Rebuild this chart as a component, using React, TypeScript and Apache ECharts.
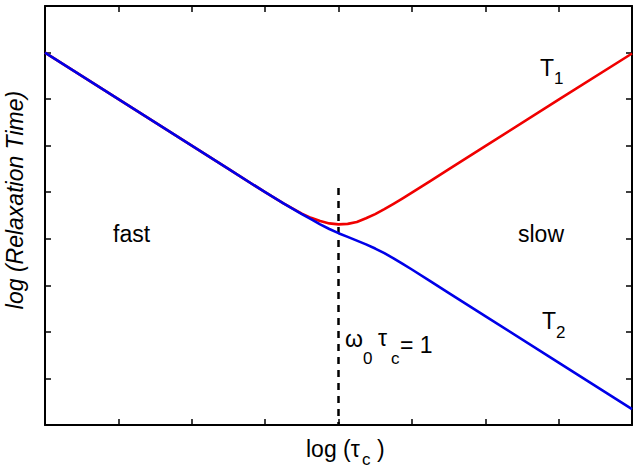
import React, { useEffect, useRef } from "react";
import * as echarts from "echarts";

// log(tau_c) sample positions shared by both relaxation curves
const logTau: number[] = [
  0, 1, 2, 2.5, 3, 3.25, 3.5, 3.625, 3.75, 3.875, 4, 4.125, 4.25, 4.375, 4.5, 4.625, 4.75, 4.875, 5, 5.25, 5.5, 6, 7, 8,
];
// log(T1): falls in the fast regime, minimum near omega0*tau_c = 1, rises in the slow regime
const logT1: number[] = [
  8, 7, 6, 5.5, 5.0, 4.76, 4.54, 4.45, 4.38, 4.33, 4.31, 4.32, 4.36, 4.44, 4.53, 4.637, 4.75, 4.868, 4.99, 5.24, 5.49, 5.99, 6.99, 7.98,
];
// log(T2): keeps falling, with a small step around omega0*tau_c = 1
const logT2: number[] = [
  8, 7, 6, 5.5, 5.0, 4.76, 4.53, 4.42, 4.31, 4.21, 4.12, 4.04, 3.96, 3.88, 3.79, 3.69, 3.58, 3.46, 3.34, 3.09, 2.84, 2.34, 1.34, 0.34,
];
// omega0*tau_c = 1 marker
const markerX: number[] = [4, 4];
const markerY: number[] = [5.09, 0];

const FONT = "'Liberation Sans', Arial, Helvetica, sans-serif";

function pairs(xs: number[], ys: number[]): number[][] {
  return xs.map((x, i) => [x, ys[i]]);
}

function axis(position: string, min: number, max: number) {
  return {
    type: "value",
    position,
    min,
    max,
    interval: 1,
    axisLine: { show: true, onZero: false, lineStyle: { color: "#000", width: 2 } },
    axisTick: { show: true, inside: true, length: 6, lineStyle: { color: "#000", width: 1.5 } },
    axisLabel: { show: false },
    splitLine: { show: false },
  };
}

function txt(text: string, x: number, y: number, fontSize: number, extra: any = {}, rotation = 0) {
  return {
    type: "text",
    x,
    y,
    rotation,
    silent: true,
    style: {
      text,
      fill: "#000",
      fontSize,
      fontFamily: FONT,
      align: "left",
      verticalAlign: "middle",
      ...extra,
    },
  };
}

export default function App() {
  const ref = useRef<HTMLDivElement>(null);

  useEffect(() => {
    if (!ref.current) return;
    const chart = echarts.init(ref.current, undefined, { renderer: "svg" });
    const main = 23;
    const sub = 17;
    chart.setOption({
      animation: false,
      backgroundColor: "#fff",
      grid: { left: 45, top: 6, right: 7, bottom: 43 },
      xAxis: [axis("bottom", 0, 8), axis("top", 0, 8)],
      yAxis: [axis("left", 0, 9), axis("right", 0, 9)],
      series: [
        {
          name: "T1",
          type: "line",
          data: pairs(logTau, logT1),
          showSymbol: false,
          lineStyle: { color: "#f00000", width: 2.6, join: "round" },
          z: 3,
        },
        {
          name: "T2",
          type: "line",
          data: pairs(logTau, logT2),
          showSymbol: false,
          lineStyle: { color: "#0000e8", width: 2.6, join: "round" },
          z: 4,
        },
        {
          name: "marker",
          type: "line",
          data: pairs(markerX, markerY),
          showSymbol: false,
          lineStyle: { color: "#000", width: 2.5, type: [7, 6] },
          z: 2,
        },
      ],
      graphic: [
        txt("log (Relaxation Time)", 15, 200, main, { align: "center", fontStyle: "italic" }, Math.PI / 2),
        txt("fast", 113, 234, main),
        txt("slow", 518, 234, main),
        txt("T", 540, 68, main),
        txt("1", 554, 78, sub),
        txt("T", 542, 321, main),
        txt("2", 556, 332, sub),
        txt("ω", 345, 339, main),
        txt("0", 363, 358, sub),
        txt("τ", 378, 338, main),
        txt("c", 391, 358, sub),
        txt("= 1", 400, 345, main),
        txt("log (τ", 306, 449, main),
        txt("c", 362, 459, sub),
        txt(")", 377, 449, main),
      ],
    });
    return () => chart.dispose();
  }, []);

  return (
    <div
      ref={ref}
      style={{ position: "fixed", left: 0, top: 0, width: 639, height: 468, background: "#fff" }}
    />
  );
}
